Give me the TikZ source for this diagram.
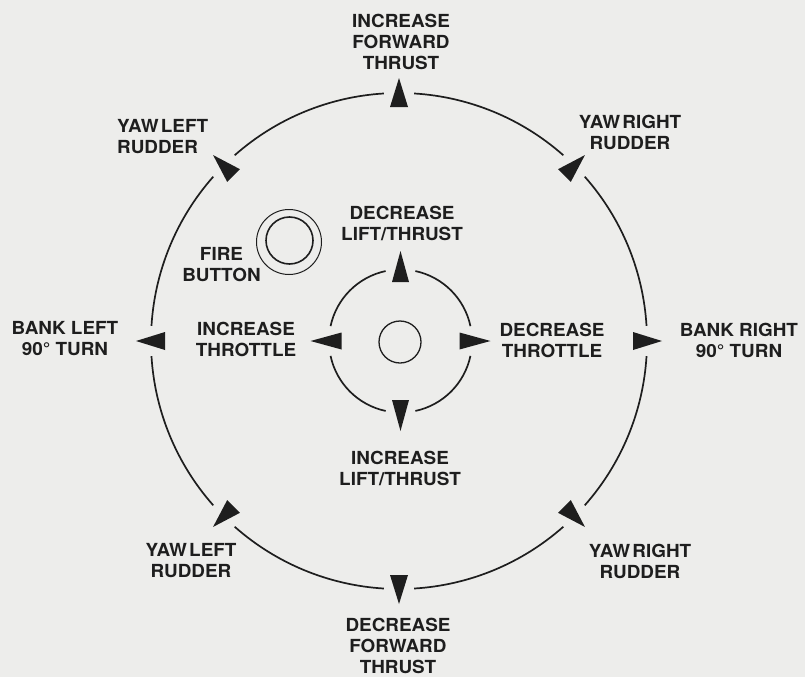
\documentclass[tikz,border=0pt]{standalone}
\usepackage{fontspec}
\newfontfamily\labfont[FakeStretch=1.05]{TeX Gyre Heros}
\definecolor{paper}{RGB}{237,237,235}
\definecolor{ink}{RGB}{30,30,30}
\begin{document}
\begin{tikzpicture}[x=1pt,y=-1pt,
  lab/.style={font=\labfont\bfseries\fontsize{18}{21}\selectfont, align=center, text=ink, inner sep=0pt},
  ring/.style={draw=ink, line width=1.7pt},
  tri/.style={fill=ink}]
\fill[paper] (0,0) rectangle (805,677);
\useasboundingbox (0,0) rectangle (805,677);
\coordinate (C) at (399,341);
\coordinate (I) at (400.5,341);
% outer ring with gaps
\foreach \a in {0,45,...,315} {
  \draw[ring] (C) ++(\a+3.5:248) arc[start angle=\a+3.5, end angle=\a+41.5, radius=248];
  \fill[tri, shift={(C)}, rotate=\a] (234,-9) -- (263,0) -- (234,9) -- cycle;
}
% inner ring with gaps
\foreach \a in {0,90,180,270} {
  \draw[ring] (I) ++(\a+12:71.5) arc[start angle=\a+12, end angle=\a+78, radius=71.5];
  \fill[tri, shift={(I)}, rotate=\a] (59,-8.5) -- (90,0) -- (59,8.5) -- cycle;
}
% hub and fire button
\node[circle, draw=ink, line width=1.3pt, minimum size=42pt, inner sep=0pt] (hub) at (400,342) {};
\node[circle, draw=ink, line width=1pt, minimum size=65pt, inner sep=0pt] (fireout) at (289,242) {};
\node[circle, draw=ink, line width=1.6pt, minimum size=47pt, inner sep=0pt] (firein) at (289.5,240.5) {};
% labels
\node[lab] (ift) at (401,41.5) {INCREASE\\FORWARD\\THRUST};
\node[lab, anchor=west, align=left] (ylt) at (117,137) {YAW\hspace{0.12em}LEFT\\RUDDER};
\node[lab] (yrt) at (630,132.5) {YAW\hspace{0.12em}RIGHT\\RUDDER};
\node[lab] (fire) at (221.5,264.5) {FIRE\\BUTTON};
\node[lab] (dlt) at (402,223) {DECREASE\\LIFT/THRUST};
\node[lab] (bl) at (65,339) {BANK LEFT\\90° TURN};
\node[lab] (it) at (246,339.5) {INCREASE\\THROTTLE};
\node[lab] (dt) at (552,340) {DECREASE\\THROTTLE};
\node[lab] (br) at (739,340) {BANK RIGHT\\90° TURN};
\node[lab] (ilt) at (400,468) {INCREASE\\LIFT/THRUST};
\node[lab] (ylb) at (191,560.5) {YAW\hspace{0.12em}LEFT\\RUDDER};
\node[lab] (yrb) at (640,561) {YAW\hspace{0.12em}RIGHT\\RUDDER};
\node[lab] (dft) at (398,646) {DECREASE\\FORWARD\\THRUST};
\end{tikzpicture}
\end{document}
